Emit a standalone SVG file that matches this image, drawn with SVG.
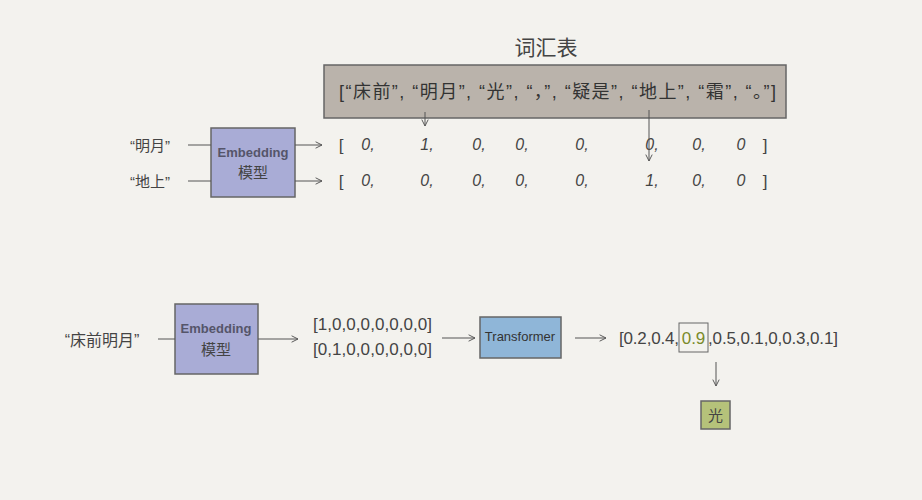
<svg xmlns="http://www.w3.org/2000/svg" width="922" height="500" viewBox="0 0 922 500">
<defs>
<marker id="ah" viewBox="0 0 10 10" refX="9" refY="5" markerWidth="8" markerHeight="8" orient="auto" markerUnits="userSpaceOnUse">
<path d="M1,1 L9,5 L1,9" fill="none" stroke="#555" stroke-width="1.2"/>
</marker>
<style>
text{font-family:"Liberation Sans","Noto Sans CJK SC",sans-serif;fill:#444}
.c{text-anchor:middle}
.v{font-size:16px;font-style:italic;text-anchor:middle}
.emb{font-size:13px;font-weight:bold;fill:#55556a}
.dk{fill:#333}
.gr{fill:#7a8a2a}
.box{stroke:#666;stroke-width:1.5}
.ln{stroke:#555;stroke-width:1;fill:none}
.ar{stroke:#555;stroke-width:1;fill:none;marker-end:url(#ah)}
</style>
</defs>
<rect width="922" height="500" fill="#f3f2ee"/>

<g id="vocab">
<text x="546" y="55" class="c" font-size="21">词汇表</text>
<rect x="324" y="65" width="462" height="53" fill="#bab3ab" class="box"/>
<text x="339" y="98" font-size="18" class="dk" textLength="437" lengthAdjust="spacing">[“床前”, “明月”, “光”, “，”, “疑是”, “地上”, “霜”, “。”]</text>
</g>

<g id="word1"><text x="150" y="151" class="c" font-size="15">“明月”</text></g>
<g id="word2"><text x="150" y="187" class="c" font-size="15">“地上”</text></g>

<g id="embed1">
<rect x="211" y="128" width="84" height="69" fill="#a9acd6" class="box"/>
<text x="253" y="157" class="c emb">Embedding</text>
<text x="253" y="178" class="c" font-size="15">模型</text>
</g>

<g id="vec1">
<text x="341" y="151" class="c" font-size="17">[</text>
<text x="368" y="150" class="v">0,</text>
<text x="427" y="150" class="v">1,</text>
<text x="479" y="150" class="v">0,</text>
<text x="522" y="150" class="v">0,</text>
<text x="582" y="150" class="v">0,</text>
<text x="652" y="150" class="v">0,</text>
<text x="699" y="150" class="v">0,</text>
<text x="741" y="150" class="v">0</text>
<text x="765" y="151" class="c" font-size="17">]</text>
</g>

<g id="vec2">
<text x="341" y="187" class="c" font-size="17">[</text>
<text x="368" y="186" class="v">0,</text>
<text x="427" y="186" class="v">0,</text>
<text x="479" y="186" class="v">0,</text>
<text x="522" y="186" class="v">0,</text>
<text x="582" y="186" class="v">0,</text>
<text x="652" y="186" class="v">1,</text>
<text x="699" y="186" class="v">0,</text>
<text x="741" y="186" class="v">0</text>
<text x="765" y="187" class="c" font-size="17">]</text>
</g>

<g id="word3"><text x="102" y="346" class="c" font-size="16">“床前明月”</text></g>

<g id="embed2">
<rect x="175" y="304" width="83" height="70" fill="#a9acd6" class="box"/>
<text x="216" y="333" class="c emb">Embedding</text>
<text x="216" y="355" class="c" font-size="15">模型</text>
</g>

<g id="onehot">
<text x="313" y="330" font-size="17" textLength="119" lengthAdjust="spacing">[1,0,0,0,0,0,0,0]</text>
<text x="313" y="355" font-size="17" textLength="119" lengthAdjust="spacing">[0,1,0,0,0,0,0,0]</text>
</g>

<g id="transformer">
<rect x="480" y="317" width="81" height="41" fill="#8fb6d8" class="box"/>
<text x="520" y="341" class="c dk" font-size="13">Transformer</text>
</g>

<g id="probs">
<text x="619" y="344" font-size="17" textLength="60" lengthAdjust="spacing">[0.2,0.4,</text>
<text x="693.5" y="344" font-size="17" class="c gr">0.9</text>
<text x="708" y="344" font-size="17" textLength="130" lengthAdjust="spacing">,0.5,0.1,0,0.3,0.1]</text>
<rect x="679" y="323" width="29" height="29" fill="none" stroke="#666" stroke-width="1"/>
</g>

<g id="result">
<rect x="701" y="401" width="29" height="28" fill="#b5c27a" class="box"/>
<text x="715.5" y="421" class="c" font-size="15">光</text>
</g>

<g id="connectors">
<line x1="425" y1="112" x2="425" y2="126" class="ar"/>
<line x1="649" y1="110" x2="649" y2="161" class="ar"/>
<line x1="188" y1="145" x2="211" y2="145" class="ln"/>
<line x1="188" y1="181" x2="211" y2="181" class="ln"/>
<line x1="295" y1="145" x2="322" y2="145" class="ar"/>
<line x1="295" y1="181" x2="322" y2="181" class="ar"/>
<line x1="158" y1="339" x2="175" y2="339" class="ln"/>
<line x1="258" y1="339" x2="298" y2="339" class="ar"/>
<line x1="442" y1="338" x2="475" y2="338" class="ar"/>
<line x1="575" y1="338" x2="606" y2="338" class="ar"/>
<line x1="716" y1="362" x2="716" y2="386" class="ar"/>
</g>
</svg>
